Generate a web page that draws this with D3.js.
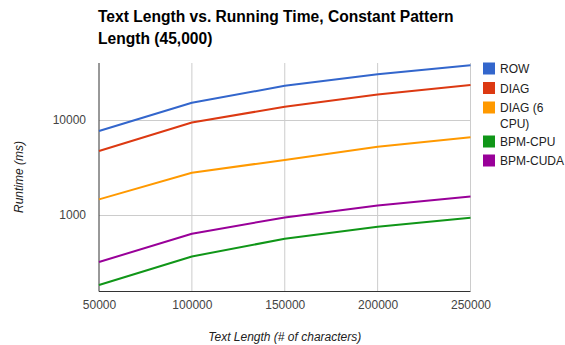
<!DOCTYPE html>
<html>
<head>
<meta charset="utf-8">
<script src="https://cdn.jsdelivr.net/npm/d3@7"></script>
<style>
  body { margin: 0; background: #fff; }
  svg { display: block; font-family: Arial, "Liberation Sans", sans-serif; }
</style>
</head>
<body>
<svg id="chart" width="565" height="345"></svg>
<script>
// Text lengths (x axis)
const textLengths = [50000, 100000, 150000, 200000, 250000];
const xTickLabels = ["50000", "100000", "150000", "200000", "250000"];
const yTickValues = [1000, 10000];
const yTickLabels = ["1000", "10000"];

// Runtimes in ms for each method
const seriesNames = ["ROW", "DIAG", "DIAG (6 CPU)", "BPM-CPU", "BPM-CUDA"];
const rowMs      = [7660, 15200, 22900, 30300, 37700];
const diagMs     = [4720, 9400, 13800, 18600, 23300];
const diag6Ms    = [1460, 2790, 3800, 5240, 6580];
const bpmCpuMs   = [183, 366, 562, 753, 937];
const bpmCudaMs  = [320, 635, 943, 1262, 1570];
const seriesColors = ["#3366cc", "#dc3912", "#ff9900", "#109618", "#990099"];

const seriesValues = [rowMs, diagMs, diag6Ms, bpmCpuMs, bpmCudaMs];

const svg = d3.select("#chart");
const plotLeft = 99, plotRight = 470.5, plotTop = 63, plotBottom = 291;

const x = d3.scaleLinear().domain([50000, 250000]).range([plotLeft, plotRight]);
const y = d3.scaleLog().domain([Math.pow(10, 2.2), Math.pow(10, 4.6)]).range([plotBottom, plotTop]);

// Title
const title = svg.append("text")
  .attr("x", 98).attr("y", 22)
  .attr("font-size", 15.6).attr("font-weight", "bold").attr("fill", "#000");
title.append("tspan").attr("x", 98).attr("dy", 0).text("Text Length vs. Running Time, Constant Pattern");
title.append("tspan").attr("x", 98).attr("dy", 22).text("Length (45,000)");

// Vertical gridlines
svg.append("g")
  .selectAll("line").data(textLengths.slice(1)).join("line")
  .attr("x1", d => x(d)).attr("x2", d => x(d))
  .attr("y1", plotTop).attr("y2", plotBottom)
  .attr("stroke", "#cccccc").attr("stroke-width", 1);

// Horizontal gridlines
svg.append("g")
  .selectAll("line").data(yTickValues).join("line")
  .attr("x1", plotLeft).attr("x2", plotRight)
  .attr("y1", d => Math.round(y(d)) + 0.5).attr("y2", d => Math.round(y(d)) + 0.5)
  .attr("stroke", "#cccccc").attr("stroke-width", 1);

// Axes
const xAxis = d3.axisBottom(x).tickValues(textLengths)
  .tickFormat((d, i) => xTickLabels[i]).tickSize(0).tickPadding(9);
const gx = svg.append("g").attr("transform", `translate(0,${plotBottom})`).call(xAxis);
gx.select(".domain").remove();
gx.selectAll("text").attr("font-size", 12).attr("fill", "#444").attr("font-family", "Arial, 'Liberation Sans', sans-serif");

const yAxis = d3.axisLeft(y).tickValues(yTickValues)
  .tickFormat((d, i) => yTickLabels[i]).tickSize(0).tickPadding(13);
const gy = svg.append("g").attr("transform", `translate(${plotLeft},0)`).call(yAxis);
gy.select(".domain").remove();
gy.selectAll("text").attr("font-size", 12).attr("fill", "#444").attr("font-family", "Arial, 'Liberation Sans', sans-serif");

// Axis lines
svg.append("line").attr("x1", plotLeft).attr("x2", plotLeft).attr("y1", plotTop).attr("y2", plotBottom + 0.5)
  .attr("stroke", "#333").attr("stroke-width", 1);
svg.append("line").attr("x1", plotLeft).attr("x2", plotRight).attr("y1", plotBottom + 0.5).attr("y2", plotBottom + 0.5)
  .attr("stroke", "#333").attr("stroke-width", 1);

// Axis titles
svg.append("text")
  .attr("x", (plotLeft + plotRight) / 2).attr("y", 341)
  .attr("text-anchor", "middle").attr("font-size", 12).attr("font-style", "italic").attr("fill", "#222")
  .text("Text Length (# of characters)");
svg.append("text")
  .attr("transform", `translate(23,${(plotTop + plotBottom) / 2}) rotate(-90)`)
  .attr("text-anchor", "middle").attr("font-size", 12).attr("font-style", "italic").attr("fill", "#222")
  .text("Runtime (ms)");

// Series lines
const line = d3.line().x((d, i) => x(textLengths[i])).y(d => y(d));
svg.append("g").selectAll("path").data(seriesValues).join("path")
  .attr("d", d => line(d))
  .attr("fill", "none")
  .attr("stroke", (d, i) => seriesColors[i])
  .attr("stroke-width", 2)
  .attr("stroke-linejoin", "round");

// Legend
const legendRows = [
  { idx: 0, lines: ["ROW"], y: 68.5 },
  { idx: 1, lines: ["DIAG"], y: 88 },
  { idx: 2, lines: ["DIAG (6", "CPU)"], y: 107.5 },
  { idx: 3, lines: ["BPM-CPU"], y: 141.5 },
  { idx: 4, lines: ["BPM-CUDA"], y: 160.5 }
];
const lg = svg.append("g");
legendRows.forEach(r => {
  lg.append("rect")
    .attr("x", 483).attr("y", r.y - 6).attr("width", 12).attr("height", 12)
    .attr("fill", seriesColors[r.idx]);
  const t = lg.append("text").attr("font-size", 12).attr("fill", "#222");
  r.lines.forEach((s, j) => {
    t.append("tspan").attr("x", 500).attr("y", r.y + 4.5 + j * 15.5).text(s);
  });
});
</script>
</body>
</html>
